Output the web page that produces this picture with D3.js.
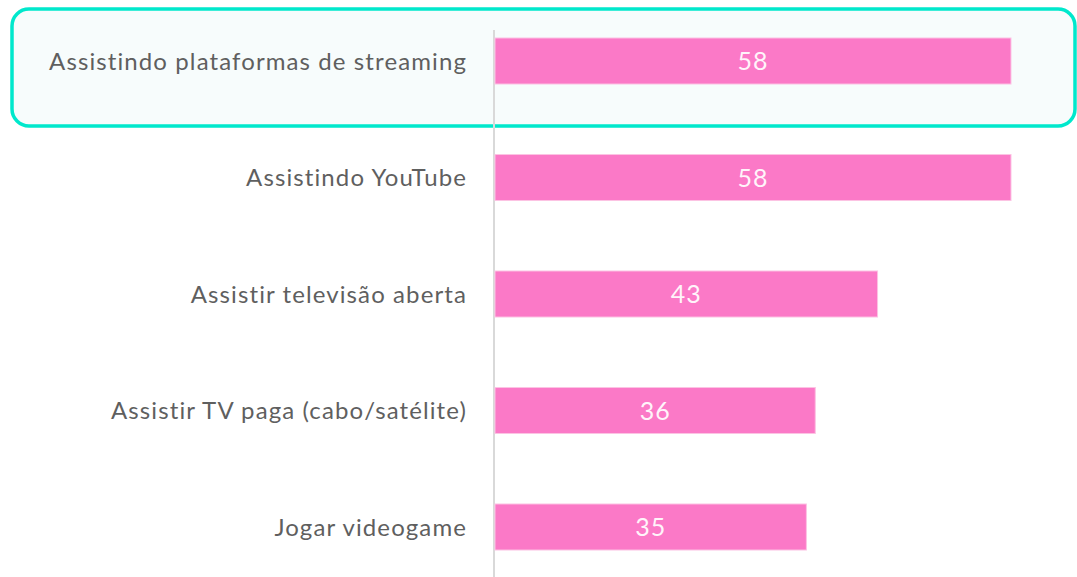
<!DOCTYPE html>
<html>
<head>
<meta charset="utf-8">
<script src="https://cdn.jsdelivr.net/npm/d3@7"></script>
<style>
  html, body { margin: 0; padding: 0; background: #fff; }
  svg { display: block; }
</style>
</head>
<body>
<svg id="chart" width="1077" height="577"></svg>
<script>
const categories = [
  "Assistindo plataformas de streaming",
  "Assistindo YouTube",
  "Assistir televisão aberta",
  "Assistir TV paga (cabo/satélite)",
  "Jogar videogame",
];
const values = [58, 58, 43, 36, 35];
const highlighted = "Assistindo plataformas de streaming";

const svg = d3.select("#chart");
const width = 1077;
const height = 577;

const x = d3.scaleLinear().domain([0, 58]).range([495, 1011]);
const y = d3
  .scaleBand()
  .domain(categories)
  .range([2.75, 585.25])
  .paddingInner(0.605)
  .paddingOuter(0.3025);

// highlight box around the first row
const hy = y(highlighted) + y.bandwidth() / 2;
svg
  .append("rect")
  .attr("x", 12)
  .attr("y", hy - 52)
  .attr("width", 1063)
  .attr("height", 117)
  .attr("rx", 17)
  .attr("fill", "#f7fcfc")
  .attr("stroke", "#00e8cc")
  .attr("stroke-width", 3.5);

// vertical axis line
svg
  .append("line")
  .attr("x1", 494)
  .attr("x2", 494)
  .attr("y1", 30)
  .attr("y2", height)
  .attr("stroke", "#d9d9d9")
  .attr("stroke-width", 2);

const rows = svg
  .selectAll("g.row")
  .data(categories.map((c, i) => ({ cat: c, val: values[i] })))
  .join("g")
  .attr("class", "row");

rows
  .append("rect")
  .attr("x", x(0))
  .attr("y", (d) => y(d.cat))
  .attr("width", (d) => x(d.val) - x(0))
  .attr("height", y.bandwidth())
  .attr("fill", "#fb79c7")
  .attr("stroke", "#fcc3e3")
  .attr("stroke-width", 1);

rows
  .append("text")
  .attr("x", (d) => (x(0) + x(d.val)) / 2)
  .attr("y", (d) => y(d.cat) + y.bandwidth() / 2)
  .attr("dy", "0.36em")
  .attr("text-anchor", "middle")
  .attr("font-family", "Lato, 'Open Sans', sans-serif")
  .attr("font-size", 25)
  .attr("letter-spacing", 1)
  .attr("fill", "#fff4fa")
  .text((d) => d.val);

rows
  .append("text")
  .attr("x", 467)
  .attr("y", (d) => y(d.cat) + y.bandwidth() / 2)
  .attr("dy", "0.36em")
  .attr("text-anchor", "end")
  .attr("font-family", "Lato, 'Open Sans', sans-serif")
  .attr("font-size", 24)
  .attr("letter-spacing", 1.1)
  .attr("fill", "#5f5f5f")
  .text((d) => d.cat);
</script>
</body>
</html>
